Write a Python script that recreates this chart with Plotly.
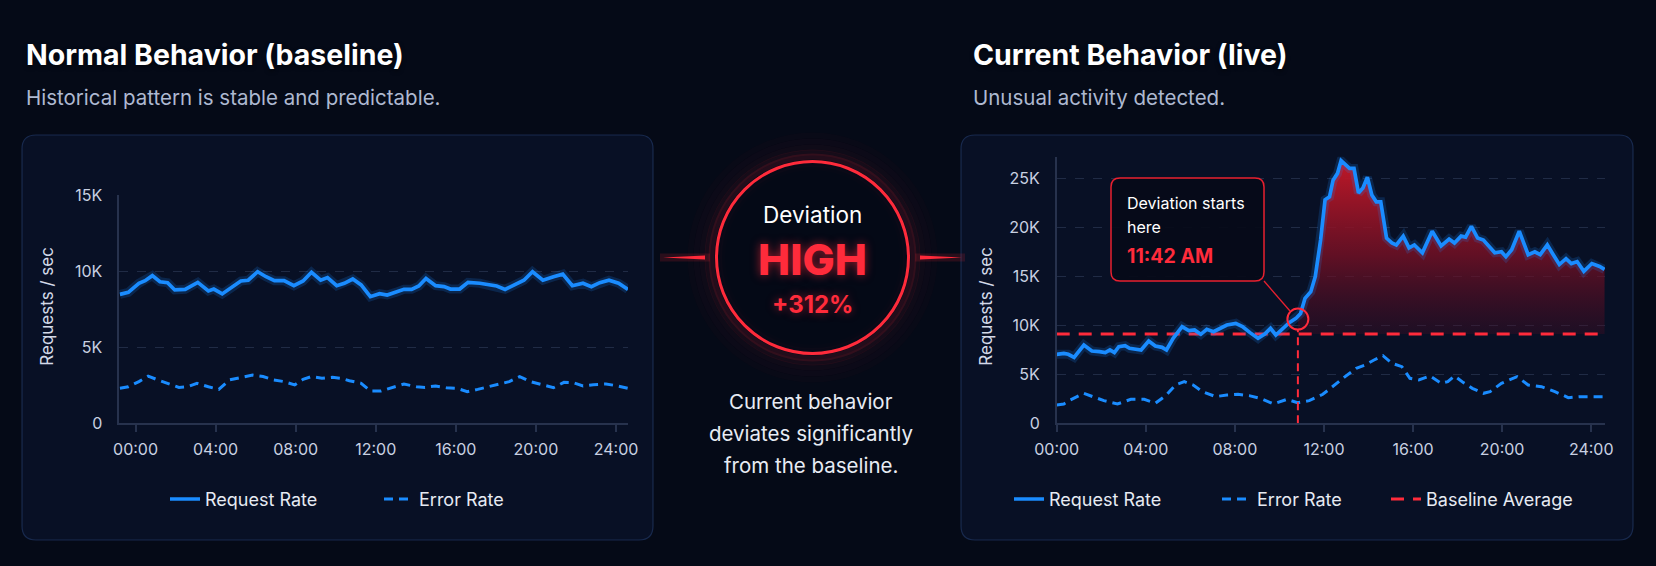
import plotly.graph_objects as go

W, H = 1656, 566

# ---------------- data ----------------
hour_ticks = [0, 4, 8, 12, 16, 20, 24]
hour_labels = ["00:00", "04:00", "08:00", "12:00", "16:00", "20:00", "24:00"]

# baseline (normal behaviour), values in thousands of requests / sec
base_req_t = [-0.78, -0.36, 0.17, 0.48, 0.84, 1.22, 1.60, 1.96, 2.48, 3.11, 3.64, 3.91, 4.33, 4.79, 5.26,
              5.63, 6.10, 6.52, 6.94, 7.42, 7.91, 8.37, 8.79, 9.25, 9.59, 10.05, 10.43, 10.85, 11.27, 11.73,
              12.19, 12.57, 12.99, 13.41, 13.79, 14.15, 14.51, 14.99, 15.41, 15.73, 16.19, 16.61, 17.20,
              17.62, 18.04, 18.46, 18.92, 19.40, 19.83, 20.35, 20.88, 21.34, 21.82, 22.35, 22.77, 23.19,
              23.65, 24.13, 24.60]
base_req_v = [8.47, 8.6, 9.2, 9.37, 9.7, 9.3, 9.24, 8.76, 8.8, 9.26, 8.7, 8.82, 8.5, 8.9, 9.35, 9.4, 9.96,
              9.63, 9.37, 9.37, 9.04, 9.35, 9.92, 9.4, 9.57, 9.04, 9.2, 9.48, 9.09, 8.32, 8.52, 8.43, 8.6,
              8.8, 8.8, 9.02, 9.52, 9.04, 8.98, 8.82, 8.82, 9.26, 9.2, 9.09, 9.02, 8.8, 9.09, 9.4, 9.96,
              9.4, 9.63, 9.8, 9.04, 9.2, 8.98, 9.24, 9.4, 9.2, 8.8]
base_err_t = [-0.78, -0.36, 0.17, 0.63, 1.12, 1.64, 2.17, 2.59, 3.07, 3.64, 4.16, 4.69, 5.21, 5.85, 6.37,
              6.90, 7.42, 7.95, 8.37, 8.79, 9.31, 9.84, 10.26, 10.68, 11.27, 11.73, 12.26, 12.78, 13.41,
              14.04, 14.46, 14.99, 15.52, 16.04, 16.57, 17.09, 17.62, 18.14, 18.67, 19.19, 19.72, 20.35,
              20.88, 21.40, 21.86, 22.35, 22.87, 23.50, 24.03, 24.60]
base_err_v = [2.3, 2.4, 2.74, 3.1, 2.85, 2.63, 2.36, 2.4, 2.63, 2.4, 2.23, 2.85, 3.0, 3.17, 3.07, 2.85, 2.74,
              2.52, 2.89, 3.07, 2.96, 3.02, 2.96, 2.8, 2.63, 2.12, 2.12, 2.34, 2.58, 2.4, 2.36, 2.45, 2.34,
              2.3, 2.08, 2.23, 2.4, 2.58, 2.74, 3.07, 2.74, 2.52, 2.34, 2.69, 2.67, 2.45, 2.54, 2.58, 2.47, 2.3]

# current (live) behaviour
live_req_t = [0.0, 0.32, 0.52, 0.78, 1.22, 1.58, 1.92, 2.18, 2.39, 2.59, 2.79, 3.07, 3.27, 3.53, 3.79, 4.13,
              4.43, 4.73, 4.93, 5.23, 5.63, 5.93, 6.19, 6.47, 6.74, 7.04, 7.34, 7.64, 8.04, 8.34, 8.68, 9.04,
              9.34, 9.60, 9.84, 10.14, 10.44, 10.74, 10.95, 11.15, 11.41, 11.61, 11.85, 12.05, 12.25, 12.41,
              12.61, 12.77, 12.95, 13.15, 13.35, 13.55, 13.75, 13.95, 14.15, 14.35, 14.55, 14.81, 15.05,
              15.25, 15.56, 15.82, 16.06, 16.42, 16.86, 17.26, 17.62, 17.86, 18.16, 18.36, 18.62, 18.90,
              19.16, 19.46, 19.67, 19.97, 20.17, 20.43, 20.77, 21.17, 21.47, 21.71, 22.03, 22.27, 22.57,
              22.87, 23.11, 23.37, 23.67, 24.03, 24.38, 24.60]
live_req_v = [7.04, 7.14, 7.04, 6.73, 7.99, 7.38, 7.31, 7.21, 7.48, 7.21, 7.82, 7.92, 7.65, 7.55, 7.48, 8.4,
              7.89, 7.75, 7.48, 8.67, 9.86, 9.46, 9.52, 9.08, 9.59, 9.35, 9.69, 10.03, 10.2, 9.86, 9.25, 8.67,
              9.11, 9.69, 9.01, 9.59, 10.27, 10.7, 11.2, 12.75, 13.43, 14.96, 18.7, 22.8, 23.1, 24.8, 25.5,
              26.8, 26.4, 26.0, 26.0, 23.5, 24.0, 25.1, 23.3, 22.6, 22.6, 18.9, 18.4, 18.2, 19.1, 17.9, 18.2,
              17.4, 19.6, 18.1, 18.8, 18.4, 19.1, 19.0, 20.1, 18.9, 18.7, 18.0, 17.4, 17.5, 17.0, 17.7, 19.6,
              17.2, 17.5, 17.2, 18.2, 17.3, 16.2, 16.8, 16.3, 16.5, 15.5, 16.3, 16.0, 15.7]
live_err_t = [0.0, 0.32, 0.62, 1.22, 1.62, 2.12, 2.73, 3.33, 3.93, 4.43, 4.93, 5.33, 5.73, 6.13, 6.54, 7.14,
              7.64, 8.14, 8.64, 9.14, 9.74, 10.34, 10.81, 11.34, 11.95, 12.45, 12.95, 13.45, 13.85, 14.25,
              14.65, 15.05, 15.50, 15.86, 16.26, 16.76, 17.26, 17.56, 17.86, 18.26, 18.66, 19.16, 19.46,
              19.97, 20.67, 21.17, 21.77, 22.37, 22.97, 23.47, 24.07, 24.60]
live_err_v = [1.87, 1.97, 2.38, 3.06, 2.72, 2.31, 1.97, 2.45, 2.45, 2.04, 2.89, 3.91, 4.25, 3.91, 3.23, 2.72,
              2.89, 2.96, 2.82, 2.55, 1.97, 2.45, 2.11, 2.31, 2.96, 3.91, 4.76, 5.61, 5.95, 6.46, 6.9, 6.12,
              5.78, 4.59, 4.42, 4.83, 4.08, 4.25, 4.83, 4.15, 3.57, 3.06, 3.23, 4.08, 4.76, 3.91, 3.74, 3.23,
              2.62, 2.72, 2.72, 2.72]

baseline_avg = 9.1          # K req/s
deviation_t = 10.83         # hours (position of the marker)
deviation_v = 10.64         # K req/s
deviation_label = "11:42 AM"
deviation_pct = "+312%"

left_yticks = [0, 5, 10, 15]
left_ytext = ["0", "5K", "10K", "15K"]
right_yticks = [0, 5, 10, 15, 20, 25]
right_ytext = ["0", "5K", "10K", "15K", "20K", "25K"]

# ---------------- styling ----------------
BLUE = "#1a8cff"
RED = "#ff2b3b"
FONT = "Inter"
AXIS_C = "#27324d"
GRID_C = "rgba(120,140,185,0.22)"
TICK_C = "#c8d0e2"


def X(v):
    return v / W


def Y(v):
    return 1 - v / H


def rrect(x0, y0, x1, y1, r):
    return (f"M{X(x0 + r)},{Y(y0)} L{X(x1 - r)},{Y(y0)} Q{X(x1)},{Y(y0)} {X(x1)},{Y(y0 + r)} "
            f"L{X(x1)},{Y(y1 - r)} Q{X(x1)},{Y(y1)} {X(x1 - r)},{Y(y1)} "
            f"L{X(x0 + r)},{Y(y1)} Q{X(x0)},{Y(y1)} {X(x0)},{Y(y1 - r)} "
            f"L{X(x0)},{Y(y0 + r)} Q{X(x0)},{Y(y0)} {X(x0 + r)},{Y(y0)} Z")


fig = go.Figure()

# ---- left panel traces ----
fig.add_trace(go.Scatter(x=base_req_t, y=base_req_v, mode="lines", xaxis="x", yaxis="y",
                         line=dict(color="rgba(26,140,255,0.18)", width=9), showlegend=False, hoverinfo="skip"))
fig.add_trace(go.Scatter(x=base_err_t, y=base_err_v, mode="lines", xaxis="x", yaxis="y", name="Error Rate",
                         line=dict(color=BLUE, width=3, dash="9px,6px"), legend="legend", legendrank=2))
fig.add_trace(go.Scatter(x=base_req_t, y=base_req_v, mode="lines", xaxis="x", yaxis="y", name="Request Rate",
                         line=dict(color=BLUE, width=3.7), legend="legend", legendrank=1, legendwidth=169))

# ---- right panel traces ----
fill_t = [deviation_t] + [t for t in live_req_t if t > deviation_t]
fill_v = [deviation_v] + [v for t, v in zip(live_req_t, live_req_v) if t > deviation_t]
fig.add_trace(go.Scatter(x=fill_t, y=[baseline_avg] * len(fill_t), mode="lines", xaxis="x2", yaxis="y2",
                         line=dict(width=0, color="rgba(0,0,0,0)"), showlegend=False, hoverinfo="skip"))
fig.add_trace(go.Scatter(x=fill_t, y=fill_v, mode="lines", xaxis="x2", yaxis="y2", fill="tonexty",
                         line=dict(width=0, color="rgba(0,0,0,0)"), showlegend=False, hoverinfo="skip",
                         fillgradient=dict(type="vertical", start=baseline_avg, stop=27,
                                           colorscale=[[0, "rgba(70,12,35,0.35)"],
                                                       [0.45, "rgba(120,16,36,0.8)"],
                                                       [1, "rgba(200,24,40,0.97)"]])))
fig.add_trace(go.Scatter(x=live_err_t, y=live_err_v, mode="lines", xaxis="x2", yaxis="y2", name="Error Rate",
                         line=dict(color=BLUE, width=3, dash="9px,6px"), legend="legend2", legendrank=2,
                         legendwidth=124))
fig.add_trace(go.Scatter(x=[0, 24.62], y=[baseline_avg, baseline_avg], mode="lines", xaxis="x2", yaxis="y2",
                         name="Baseline Average", line=dict(color=RED, width=3, dash="13px,9px"),
                         legend="legend2", legendrank=3))
fig.add_trace(go.Scatter(x=live_req_t, y=live_req_v, mode="lines", xaxis="x2", yaxis="y2",
                         line=dict(color="rgba(26,140,255,0.18)", width=9), showlegend=False, hoverinfo="skip"))
fig.add_trace(go.Scatter(x=live_req_t, y=live_req_v, mode="lines", xaxis="x2", yaxis="y2", name="Request Rate",
                         line=dict(color=BLUE, width=3.7), legend="legend2", legendrank=1, legendwidth=163))
fig.add_trace(go.Scatter(x=[deviation_t], y=[deviation_v], mode="markers", xaxis="x2", yaxis="y2",
                         marker=dict(symbol="circle-open", size=21, color=RED, line=dict(width=2)),
                         showlegend=False, hoverinfo="skip"))

shapes = []
# cards
for (x0, x1) in [(22, 653), (961, 1633)]:
    shapes.append(dict(type="path", path=rrect(x0, 135, x1, 540, 14), xref="paper", yref="paper",
                       fillcolor="rgba(10,20,46,0.6)", line=dict(color="rgba(36,62,110,0.6)", width=1.2),
                       layer="below"))
# central glow
cx, cy, r = 812.5, 257.5, 96
for k, a in [(26, 0.02), (20, 0.03), (14, 0.045), (9, 0.07), (5, 0.12)]:
    shapes.append(dict(type="circle", xref="paper", yref="paper",
                       x0=X(cx - r - k), x1=X(cx + r + k), y0=Y(cy + r + k), y1=Y(cy - r - k),
                       line=dict(color=f"rgba(255,40,55,{a})", width=6), layer="below"))
for k, a in [(6, 0.06), (3, 0.12)]:
    shapes.append(dict(type="circle", xref="paper", yref="paper",
                       x0=X(cx - r + k), x1=X(cx + r - k), y0=Y(cy + r - k), y1=Y(cy - r + k),
                       line=dict(color=f"rgba(255,40,55,{a})", width=5), layer="below"))
shapes.append(dict(type="circle", xref="paper", yref="paper",
                   x0=X(cx - r), x1=X(cx + r), y0=Y(cy + r), y1=Y(cy - r),
                   fillcolor="rgba(5,9,22,0.85)", line=dict(color=RED, width=3)))
# side connectors (tapered)
shapes.append(dict(type="path", xref="paper", yref="paper", fillcolor=RED, line=dict(width=0),
                   path=f"M{X(663)},{Y(257.5)} L{X(705)},{Y(255.5)} L{X(705)},{Y(259.5)} Z"))
shapes.append(dict(type="path", xref="paper", yref="paper", fillcolor=RED, line=dict(width=0),
                   path=f"M{X(920)},{Y(255.5)} L{X(962)},{Y(257.5)} L{X(920)},{Y(259.5)} Z"))
shapes.append(dict(type="line", xref="paper", yref="paper", x0=X(660), x1=X(710), y0=Y(257.5), y1=Y(257.5),
                   line=dict(color="rgba(255,40,55,0.15)", width=8)))
shapes.append(dict(type="line", xref="paper", yref="paper", x0=X(915), x1=X(965), y0=Y(257.5), y1=Y(257.5),
                   line=dict(color="rgba(255,40,55,0.15)", width=8)))
# deviation vertical line
shapes.append(dict(type="line", xref="x2", yref="y2", x0=deviation_t, x1=deviation_t, y0=0, y1=deviation_v - 1.05,
                   line=dict(color=RED, width=2, dash="8px,5px")))
# callout box and connector
shapes.append(dict(type="path", path=rrect(1111, 178, 1264, 281, 9), xref="paper", yref="paper",
                   fillcolor="rgba(6,10,24,0.92)", line=dict(color="#e8202f", width=1.5)))
shapes.append(dict(type="line", xref="paper", yref="paper", x0=X(1264), y0=Y(281), x1=X(1290), y1=Y(311),
                   line=dict(color="#e8202f", width=1.3)))

ann = []


def add_text(text, x, y, size, color, weight=400, xanchor="left", shadow=None, angle=0):
    f = dict(family=FONT, size=size, color=color, weight=weight)
    if shadow:
        f["shadow"] = shadow
    ann.append(dict(text=text, x=X(x), y=Y(y), xref="paper", yref="paper", showarrow=False,
                    xanchor=xanchor, yanchor="middle", font=f, textangle=angle))


add_text("Normal Behavior (baseline)", 24, 54, 28.5, "#ffffff", 700, shadow="0px 2px 4px rgba(0,0,0,0.6)")
add_text("Historical pattern is stable and predictable.", 24, 97.5, 20.5, "#aeb9d1")
add_text("Current Behavior (live)", 970.5, 54, 28.5, "#ffffff", 700, shadow="0px 2px 4px rgba(0,0,0,0.6)")
add_text("Unusual activity detected.", 970.5, 97.5, 20.5, "#aeb9d1")

add_text("Requests / sec", 47, 306.7, 17, "#d3d9e8", angle=-90, xanchor="center")
add_text("Requests / sec", 986, 306.7, 17, "#d3d9e8", angle=-90, xanchor="center")

add_text("Deviation", cx, 214, 22.5, "#ffffff", xanchor="center")
add_text("HIGH", cx, 259, 43, RED, 800, xanchor="center", shadow="0px 0px 10px rgba(255,40,55,0.6)")
add_text(deviation_pct, cx, 304, 24, RED, 700, xanchor="center", shadow="0px 0px 8px rgba(255,40,55,0.5)")
add_text("Current behavior", 811, 401.5, 20.5, "#e8ecf4", xanchor="center")
add_text("deviates significantly", 811, 433.3, 20.5, "#e8ecf4", xanchor="center")
add_text("from the baseline.", 811, 465, 20.5, "#e8ecf4", xanchor="center")

add_text("Deviation starts", 1125, 203, 16, "#ffffff")
add_text("here", 1125, 227.5, 16, "#ffffff")
add_text(deviation_label, 1125, 256, 19.5, RED, 700)

axis_common = dict(showline=True, linecolor=AXIS_C, linewidth=1.5, zeroline=False, automargin=False,
                   tickfont=dict(family=FONT, size=16, color=TICK_C), fixedrange=True)

fig.update_layout(
    width=W, height=H, margin=dict(l=0, r=0, t=0, b=0, autoexpand=False),
    paper_bgcolor="#050a17", plot_bgcolor="rgba(0,0,0,0)",
    shapes=shapes, annotations=ann, hovermode=False,
    xaxis=dict(domain=[X(119.3), X(628)], range=[-0.81, 24.6], anchor="y", tickvals=hour_ticks,
               ticktext=hour_labels, showgrid=False, ticks="outside", ticklen=7, tickwidth=1.5,
               tickcolor=AXIS_C, ticklabelstandoff=4, **axis_common),
    yaxis=dict(domain=[Y(423.3), Y(195)], range=[0, 15], anchor="x", tickvals=left_yticks, ticktext=left_ytext,
               showgrid=True, gridcolor=GRID_C, griddash="dash", gridwidth=1, ticks="",
               ticklabelstandoff=12, **axis_common),
    xaxis2=dict(domain=[X(1056.7), X(1605)], range=[0, 24.62], anchor="y2", tickvals=hour_ticks,
                ticktext=hour_labels, showgrid=False, ticks="outside", ticklen=7, tickwidth=1.5,
                tickcolor=AXIS_C, ticklabelstandoff=4, **axis_common),
    yaxis2=dict(domain=[Y(423.3), Y(156.7)], range=[0, 27.2], anchor="x2", tickvals=right_yticks,
                ticktext=right_ytext, showgrid=True, gridcolor=GRID_C, griddash="dash", gridwidth=1, ticks="",
                ticklabelstandoff=12, **axis_common),
    legend=dict(orientation="h", x=X(165), y=Y(499.3), xanchor="left", yanchor="middle",
                bgcolor="rgba(0,0,0,0)", font=dict(family=FONT, size=18, color="#e6eaf2"),
                traceorder="normal"),
    legend2=dict(orientation="h", x=X(1009), y=Y(499.3), xanchor="left", yanchor="middle",
                 bgcolor="rgba(0,0,0,0)", font=dict(family=FONT, size=18, color="#e6eaf2"),
                 traceorder="normal"),
)

fig.write_html("out.html", config={"displayModeBar": False},
               post_script="document.body.style.margin='0';document.body.style.overflow='hidden';")
